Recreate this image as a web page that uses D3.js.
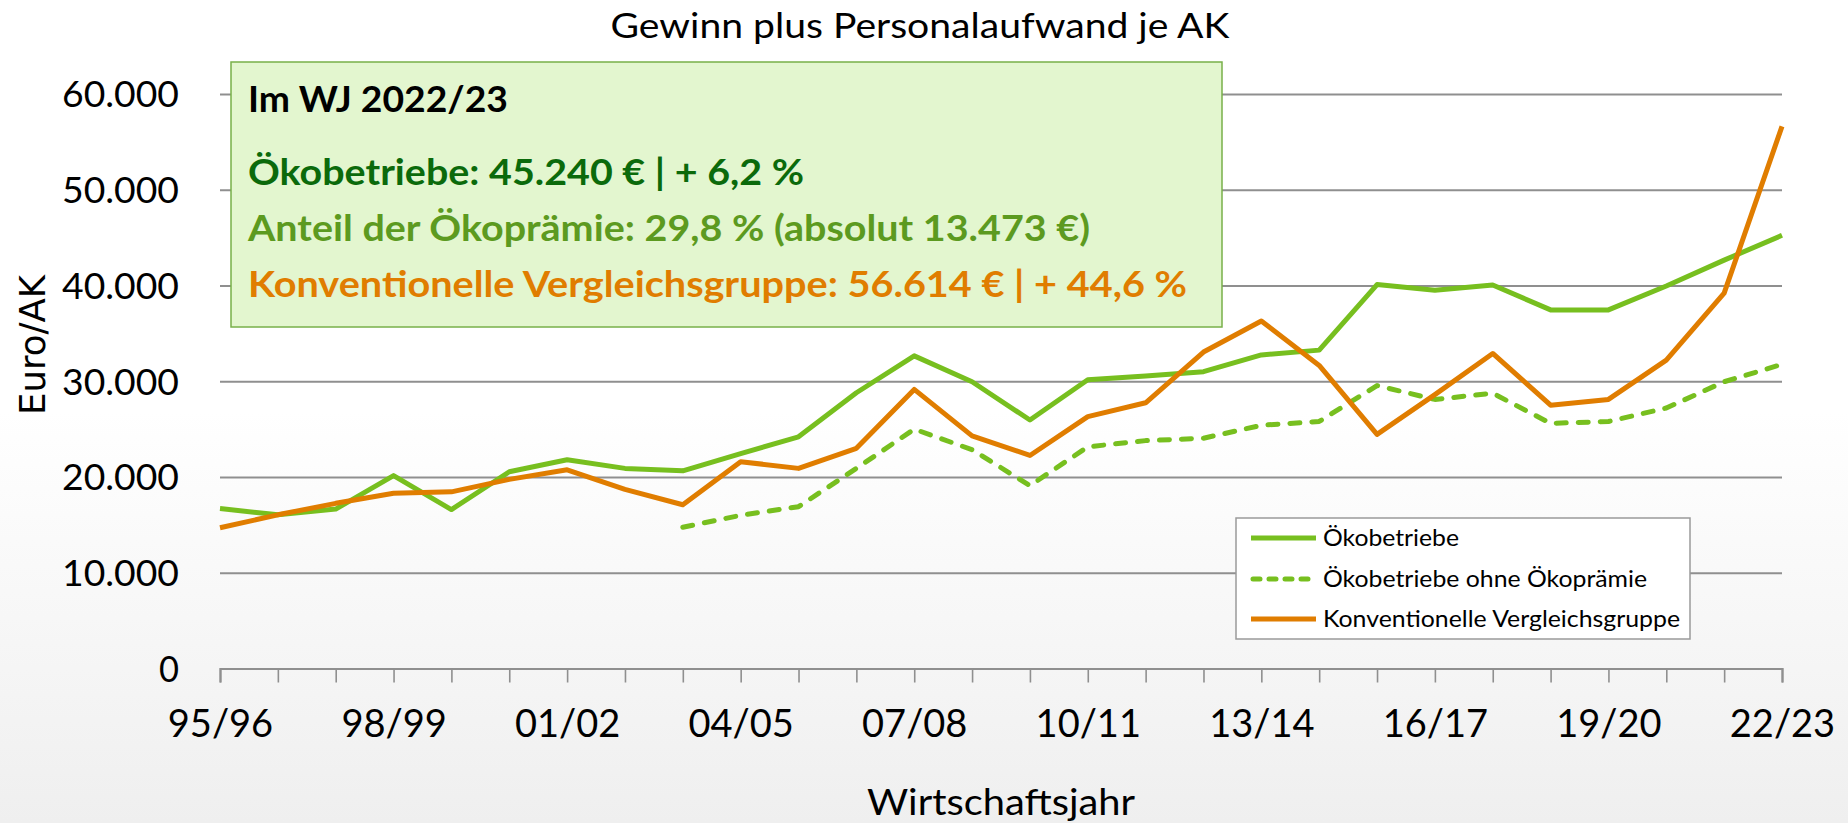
<!DOCTYPE html>
<html>
<head>
<meta charset="utf-8">
<script src="https://cdn.jsdelivr.net/npm/d3@7"></script>
<style>
  html, body { margin: 0; padding: 0; background: #fff; }
  svg { display: block; }
</style>
</head>
<body>
<script>
// ---------- DATA ----------
const categories = ["95/96","96/97","97/98","98/99","99/00","00/01","01/02","02/03","03/04","04/05",
  "05/06","06/07","07/08","08/09","09/10","10/11","11/12","12/13","13/14","14/15",
  "15/16","16/17","17/18","18/19","19/20","20/21","21/22","22/23"];

const oeko = [16700,16050,16650,20150,16600,20550,21800,20900,20650,22450,
  24200,28800,32650,29950,25950,30150,30550,31000,32750,33250,
  40100,39500,40050,37450,37450,39950,42650,45240];

const oekoOhne = [null,null,null,null,null,null,null,null,14750,16000,
  16900,20900,25000,22850,19100,23150,23800,24050,25400,25800,
  29550,28100,28750,25600,25800,27200,29950,31767];

const konv = [14700,16050,17250,18300,18450,19750,20750,18700,17100,21600,
  20900,23000,29150,24300,22250,26300,27750,33050,36300,31650,
  24450,28600,32900,27500,28100,32200,39200,56614];

const yTicks = [0,10000,20000,30000,40000,50000,60000];
const xLabelEvery = 3;

const seriesNames = ["Ökobetriebe","Ökobetriebe ohne Ökoprämie","Konventionelle Vergleichsgruppe"];
const titleText = "Gewinn plus Personalaufwand je AK";
const yTitle = "Euro/AK";
const xTitle = "Wirtschaftsjahr";
const boxLines = [
  "Im WJ 2022/23",
  "Ökobetriebe: 45.240 € | + 6,2 %",
  "Anteil der Ökoprämie: 29,8 % (absolut 13.473 €)",
  "Konventionelle Vergleichsgruppe: 56.614 € | + 44,6 %"
];

// ---------- STYLE ----------
const W = 1848, H = 823;
const GREEN = "#77bf1f", ORANGE = "#e07d00";
const FONT = "Lato, 'Open Sans', sans-serif";

const svg = d3.select("body").append("svg").attr("width", W).attr("height", H);

const defs = svg.append("defs");
const grad = defs.append("linearGradient").attr("id","bg").attr("x1",0).attr("y1",0).attr("x2",0).attr("y2",1);
grad.append("stop").attr("offset","0").attr("stop-color","#ffffff");
grad.append("stop").attr("offset","0.5").attr("stop-color","#ffffff");
grad.append("stop").attr("offset","1").attr("stop-color","#efefef");
svg.append("rect").attr("width",W).attr("height",H).attr("fill","url(#bg)");

const x = d3.scalePoint().domain(categories).range([220, 1782]);
const y = d3.scaleLinear().domain([0, 60000]).range([668.5, 94]);

const loc = d3.formatLocale({decimal: ",", thousands: ".", grouping: [3], currency: ["", " €"]});
const fmt = loc.format(",d");

function fit(sel, len) {
  sel.attr("textLength", len).attr("lengthAdjust", "spacingAndGlyphs");
  return sel;
}

// grid
const grid = svg.append("g").attr("transform","translate(220,0)")
  .call(d3.axisLeft(y).tickValues(yTicks.filter(d => d > 0)).tickSize(-(1782-220)).tickFormat(""));
grid.select(".domain").remove();
grid.selectAll(".tick line").attr("stroke","#8f8f8f").attr("stroke-width",2);

// y tick labels
const yAx = svg.append("g").attr("transform","translate(179,0)")
  .call(d3.axisLeft(y).tickValues(yTicks).tickSize(0).tickPadding(0).tickFormat(fmt));
yAx.select(".domain").remove();
yAx.selectAll("text").attr("font-family", FONT).attr("font-size", 36).attr("fill","#000")
  .attr("dy","0.36em").each(function(d){ d3.select(this).attr("textLength", d === 0 ? 20 : 117).attr("lengthAdjust","spacingAndGlyphs"); });

// x axis
const xAx = svg.append("g").attr("transform", `translate(0,${y(0)})`)
  .call(d3.axisBottom(x).tickValues(categories).tickSize(14)
    .tickFormat((d,i) => i % xLabelEvery === 0 ? d : ""));
xAx.select(".domain").attr("stroke","#8f8f8f").attr("stroke-width",2.2);
xAx.selectAll(".tick line").attr("stroke","#8f8f8f").attr("stroke-width",1.6);
xAx.selectAll("text").attr("font-family", FONT).attr("font-size", 38).attr("fill","#000")
  .attr("y", 68.5).attr("dy", 0);

// lines
const line = d3.line().defined(d => d.v != null).x(d => x(d.c)).y(d => y(d.v));
const toPts = arr => arr.map((v,i) => ({c: categories[i], v}));

svg.append("path").datum(toPts(oekoOhne)).attr("d", line).attr("fill","none")
  .attr("stroke", GREEN).attr("stroke-width", 5).attr("stroke-dasharray","10,12")
  .attr("stroke-linecap","round").attr("stroke-linejoin","round");
svg.append("path").datum(toPts(oeko)).attr("d", line).attr("fill","none")
  .attr("stroke", GREEN).attr("stroke-width", 5).attr("stroke-linejoin","round");
svg.append("path").datum(toPts(konv)).attr("d", line).attr("fill","none")
  .attr("stroke", ORANGE).attr("stroke-width", 5).attr("stroke-linejoin","round");

// title
fit(svg.append("text").attr("x", 920).attr("y", 38).attr("text-anchor","middle")
  .attr("font-family", FONT).attr("font-size", 35).attr("fill","#000").text(titleText), 619);

// y title
fit(svg.append("text").attr("transform","translate(45,345) rotate(-90)").attr("text-anchor","middle")
  .attr("font-family","'DejaVu Sans', Verdana, sans-serif").attr("font-size", 35).attr("fill","#000").text(yTitle), 140);

// x title
fit(svg.append("text").attr("x", 1001).attr("y", 815).attr("text-anchor","middle")
  .attr("font-family", FONT).attr("font-size", 36).attr("fill","#000").text(xTitle), 268);

// info box
svg.append("rect").attr("x",231).attr("y",62).attr("width",991).attr("height",265)
  .attr("fill","#e3f6cf").attr("stroke","#78b04a").attr("stroke-width",1.5);
const boxSpec = [
  {y:112, c:"#000000", w:260},
  {y:185, c:"#0b6a0b", w:556},
  {y:240.5, c:"#5c9a20", w:842},
  {y:296.5, c:"#e07d00", w:939}
];
boxLines.forEach((t,i) => {
  fit(svg.append("text").attr("x",248).attr("y",boxSpec[i].y)
    .attr("font-family", FONT).attr("font-weight","bold").attr("font-size", 37)
    .attr("fill", boxSpec[i].c).text(t), boxSpec[i].w);
});

// legend
const lg = svg.append("g");
lg.append("rect").attr("x",1236).attr("y",518).attr("width",454).attr("height",121)
  .attr("fill","#fff").attr("stroke","#9a9a9a").attr("stroke-width",1.5);
const legSpec = [
  {y:538, c:GREEN, dash:null, w:136},
  {y:579, c:GREEN, dash:"7,9", w:324},
  {y:619, c:ORANGE, dash:null, w:357}
];
seriesNames.forEach((n,i) => {
  const s = legSpec[i];
  const l = lg.append("line").attr("x1",1251).attr("x2",1316).attr("y1",s.y).attr("y2",s.y)
    .attr("stroke", s.c).attr("stroke-width",5);
  if (s.dash) l.attr("stroke-dasharray", s.dash).attr("stroke-linecap","round").attr("x1",1253).attr("x2",1314);
  fit(lg.append("text").attr("x",1323).attr("y",s.y).attr("dy","0.35em")
    .attr("font-family", FONT).attr("font-size", 24).attr("fill","#000").text(n), s.w);
});
</script>
</body>
</html>
